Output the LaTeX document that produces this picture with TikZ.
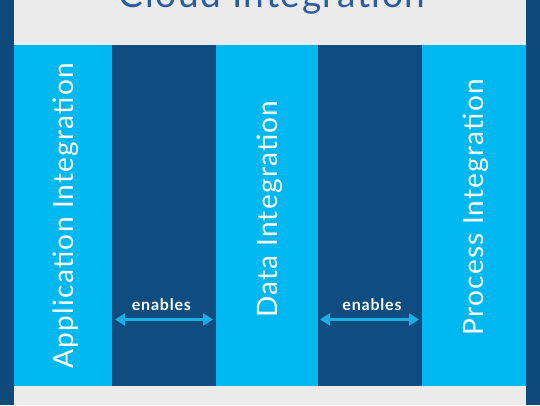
\documentclass[tikz,border=0pt]{standalone}
\usepackage{fontspec}
\setmainfont{Lato}
\newfontfamily\widelato[LetterSpace=4.5]{Lato}
\newfontfamily\widelatobold[LetterSpace=5,BoldFont={Lato Bold}]{Lato}
\usetikzlibrary{arrows.meta}
\definecolor{borderblue}{HTML}{0E4A7C}
\definecolor{panelgray}{HTML}{EBEBEB}
\definecolor{cyancol}{HTML}{00B8F1}
\definecolor{darkcol}{HTML}{0F4C80}
\definecolor{arrowcyan}{HTML}{1AAEE5}
\definecolor{titleblue}{HTML}{2C5CA0}
\tikzset{
  lightcol/.style={fill=cyancol, draw=none},
  deepcol/.style={fill=darkcol, draw=none},
  coltext/.style={rotate=90, anchor=base, text=white, font=\widelato\fontsize{28}{30}\selectfont, inner sep=0pt},
  enabletext/.style={anchor=base, text=white, font=\widelatobold\bfseries\fontsize{16}{18}\selectfont, inner sep=0pt},
  linkarrow/.style={draw=arrowcyan, line width=2.6pt, {Triangle[length=10pt,width=12pt]}-{Triangle[length=10pt,width=12pt]}}
}
\begin{document}
\begin{tikzpicture}[x=1pt,y=-1pt]
\useasboundingbox (0,0) rectangle (540,405);
\fill[borderblue] (0,0) rectangle (540,405);
\fill[panelgray] (14,0) rectangle (526,405);
\node[anchor=base, text=titleblue, font=\widelato\fontsize{37}{40}\selectfont, inner sep=0pt] (title) at (272,7) {Cloud Integration};
% columns
\path[lightcol] (14,45) rectangle (112,386);
\path[deepcol] (112,45) rectangle (216,386);
\path[lightcol] (216,45) rectangle (318,386);
\path[deepcol] (318,45) rectangle (422,386);
\path[lightcol] (422,45) rectangle (526,386);
\node[coltext] (app) at (73,215.5) {Application Integration};
\node[coltext] (data) at (277,209) {Data Integration};
\node[coltext] (proc) at (483,207) {Process Integration};
% enables arrows
\coordinate (a1l) at (115,319.5);
\coordinate (a1r) at (213,319.5);
\coordinate (a2l) at (320,319.5);
\coordinate (a2r) at (419,319.5);
\draw[linkarrow] (a1l) -- (a1r);
\draw[linkarrow] (a2l) -- (a2r);
\node[enabletext] (en1) at (161.4,310.3) {enables};
\node[enabletext] (en2) at (372,310.7) {enables};
\end{tikzpicture}
\end{document}
